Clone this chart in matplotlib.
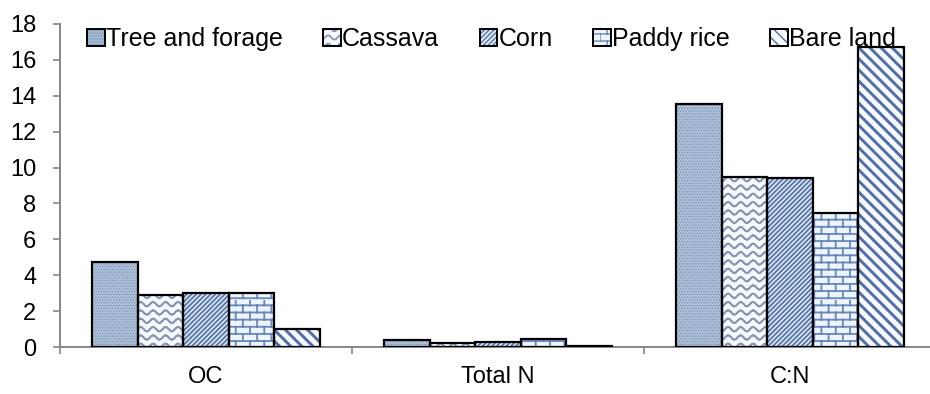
import warnings
import numpy as np
import matplotlib
matplotlib.use("Agg")
import matplotlib.pyplot as plt
from matplotlib import hatch as mhatch
from matplotlib.path import Path
from matplotlib.patches import Patch
from matplotlib.ticker import FixedLocator
from matplotlib.legend_handler import HandlerTuple

warnings.filterwarnings("ignore")

# ---- data -------------------------------------------------------------
categories = ["OC", "Total N", "C:N"]
series_names = ["Tree and forage", "Cassava", "Corn", "Paddy rice", "Bare land"]
tree_forage = [4.75, 0.38, 13.55]
cassava = [2.90, 0.25, 9.50]
corn = [3.02, 0.30, 9.40]
paddy_rice = [3.02, 0.42, 7.45]
bare_land = [0.98, 0.06, 16.70]
y_ticks = [0, 2, 4, 6, 8, 10, 12, 14, 16, 18]


# ---- extra hatch patterns --------------------------------------------
class WaveHatch(mhatch.HatchPatternBase):
    """'~' : rows of wavy lines (drawn as short straight segments)."""

    def __init__(self, hatch, density):
        self.num_rows = hatch.count("~") * density
        self.num_waves = 8
        self.steps = self.num_waves * 8
        self.num_vertices = self.num_rows * self.steps * 2

    def set_vertices_and_codes(self, vertices, codes):
        x = np.linspace(0, 1, self.steps + 1)
        amp = 0.26 / self.num_rows
        segs = []
        for i in range(self.num_rows):
            y = (i + 0.5) / self.num_rows + amp * np.sin(2 * np.pi * self.num_waves * x)
            pts = np.column_stack([x, y])
            seg = np.empty((self.steps * 2, 2))
            seg[0::2] = pts[:-1]
            seg[1::2] = pts[1:]
            segs.append(seg)
        vertices[:] = np.concatenate(segs)
        codes[0::2] = Path.MOVETO
        codes[1::2] = Path.LINETO


class BrickHatch(mhatch.HatchPatternBase):
    """'b' : brick wall pattern."""

    def __init__(self, hatch, density):
        n = hatch.count("b")
        self.rows = 7 * n
        self.cols = self.rows // 2
        self.num_vertices = self.rows * 2 + self.rows * self.cols * 2

    def set_vertices_and_codes(self, vertices, codes):
        v = []
        for i in range(self.rows):
            y0 = (i + 0.25) / self.rows
            v += [(0.0, y0), (1.0, y0)]
        for i in range(self.rows):
            y0 = (i + 0.25) / self.rows
            y1 = (i + 1.25) / self.rows
            off = 0.5 * (i % 2)
            for j in range(self.cols):
                xv = (j + off) / self.cols
                v += [(xv, y0), (xv, y1)]
        vertices[:] = np.array(v)
        codes[0::2] = Path.MOVETO
        codes[1::2] = Path.LINETO


class WideBackslashHatch(mhatch.SouthEastHatch):
    """'z' : backslash stripes with custom spacing."""

    def __init__(self, hatch, density):
        self.num_lines = 9 * hatch.count("z")
        self.num_vertices = (self.num_lines + 1) * 2 if self.num_lines else 0


mhatch._hatch_types.extend([WaveHatch, BrickHatch, WideBackslashHatch])

# ---- styling ----------------------------------------------------------
plt.rcParams["font.family"] = ["Liberation Sans", "DejaVu Sans"]

values = [tree_forage, cassava, corn, paddy_rice, bare_land]
styles = [
    dict(face="#adc0d7", hatch="......", color="#7891b6", lw=0.6),
    dict(face="#f6f9fd", hatch="~~", color="#8898b4", lw=1.3),
    dict(face="#e2ebf6", hatch="///////", color="#5676aa", lw=1.3),
    dict(face="#eef4fb", hatch="bb", color="#6786ba", lw=1.3),
    dict(face="#f7f9fd", hatch="zz", color="#506fa6", lw=2.1),
]

W, H = 930, 394
fig = plt.figure(figsize=(W / 100, H / 100), dpi=100)
ax = fig.add_axes([60 / W, 47 / H, 876 / W, 323 / H])

x = np.arange(len(categories))
bar_w = 0.156
n = len(values)
outline_lw = 1.6
legend_handles = []

for k, (vals, st) in enumerate(zip(values, styles)):
    pos = x + (k - (n - 1) / 2) * bar_w
    with plt.rc_context({"hatch.linewidth": st["lw"]}):
        bars = ax.bar(pos, vals, width=bar_w, color=st["face"],
                      edgecolor=st["color"], linewidth=0, hatch=st["hatch"],
                      zorder=2)
        for b in bars:
            if hasattr(b, "set_hatch_linewidth"):
                b.set_hatch_linewidth(st["lw"])
        hp = Patch(facecolor=st["face"], edgecolor=st["color"], linewidth=0,
                   hatch=st["hatch"])
        if hasattr(hp, "set_hatch_linewidth"):
            hp.set_hatch_linewidth(st["lw"])
    ax.bar(pos, vals, width=bar_w, facecolor="none", edgecolor="black",
           linewidth=outline_lw, zorder=3)
    op = Patch(facecolor="none", edgecolor="black", linewidth=1.4)
    legend_handles.append((hp, op))

ax.set_xlim(-0.5, 2.5)
ax.set_ylim(0, 18)

for side in ("top", "right"):
    ax.spines[side].set_visible(False)
for side in ("left", "bottom"):
    ax.spines[side].set_color("#868686")
    ax.spines[side].set_linewidth(1.4)

ax.set_yticks(y_ticks)
ax.set_yticklabels([str(t) for t in y_ticks])
ax.tick_params(axis="y", which="major", length=5, width=1.2, color="#868686",
               labelsize=17, pad=12)

ax.set_xticks(x)
ax.set_xticklabels(categories)
ax.xaxis.set_minor_locator(FixedLocator(np.arange(len(categories) + 1) - 0.5))
ax.tick_params(axis="x", which="major", length=0, labelsize=17, pad=14)
ax.tick_params(axis="x", which="minor", length=5, width=1.2, color="#868686")

fig.legend(legend_handles, series_names, loc="center left",
           bbox_to_anchor=(87 / W, 1 - 39 / H), ncol=5, frameon=False,
           fontsize=18, handlelength=0.7, handleheight=0.65,
           handletextpad=0.05, columnspacing=1.62, borderpad=0,
           borderaxespad=0,
           handler_map={tuple: HandlerTuple(ndivide=1)})

fig.savefig("out.png", dpi=100)
